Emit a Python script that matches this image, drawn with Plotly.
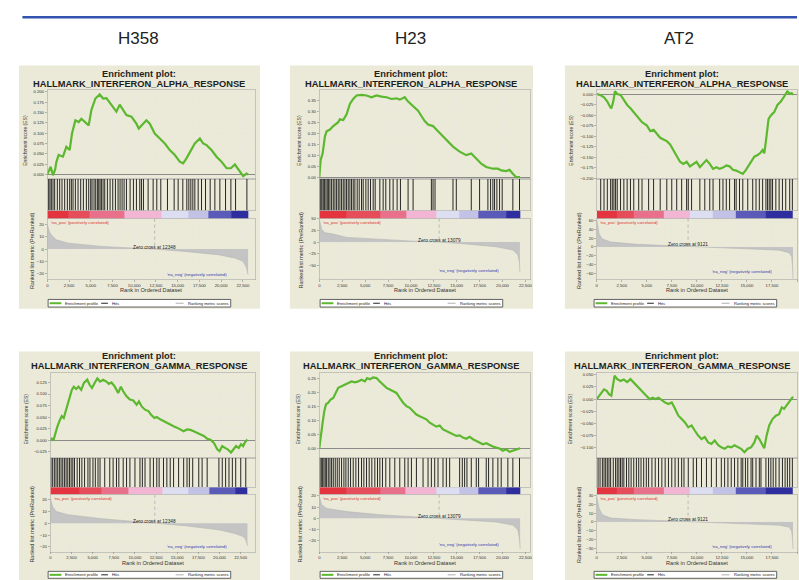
import plotly.graph_objects as go

# ------------------------------------------------------------------ data
CELL_LINES = ["H358", "H23", "AT2"]
GENE_SETS = ["HALLMARK_INTERFERON_ALPHA_RESPONSE", "HALLMARK_INTERFERON_GAMMA_RESPONSE"]
ZERO_CROSS = [12348, 13079, 9121]
RANK_TICKS = [0, 2500, 5000, 7500, 10000, 12500, 15000, 17500, 20000, 22500]
BAR_LEVELS = [1.0, 0.85, 0.6, 0.3, -0.15, -0.35, -0.7, -1.0]
LEGEND_LABELS = ["Enrichment profile", "Hits", "Ranking metric scores"]

# ---- H358 / alpha
H358_ALPHA_ES_RANK = [0, 384, 650, 900, 1040, 1300, 1800, 2190, 2570, 2840, 3225, 3610, 3917, 4300, 4760, 5070,
                      5530, 6030, 6410, 6800, 7370, 7950, 8330, 8717, 9100, 9680, 10250, 10520, 10830, 11400,
                      11790, 12360, 12940, 13520, 14090, 14670, 15240, 15630, 16010, 16590, 16970, 17550, 17930,
                      18320, 18890, 19470, 20040, 20620, 21120, 21580, 22040, 22540, 22920, 23100]
H358_ALPHA_ES = [0, 0.0185, -0.002, 0.012, 0.030, 0.047, 0.043, 0.067, 0.059, 0.099, 0.131, 0.127, 0.135, 0.127,
                 0.119, 0.156, 0.184, 0.194, 0.184, 0.185, 0.168, 0.152, 0.169, 0.156, 0.144, 0.140, 0.123, 0.111,
                 0.119, 0.131, 0.123, 0.099, 0.087, 0.075, 0.059, 0.047, 0.031, 0.027, 0.039, 0.063, 0.075, 0.087,
                 0.075, 0.071, 0.059, 0.043, 0.031, 0.015, 0.015, 0.024, 0.010, -0.004, 0.002, 0.0]
H358_ALPHA_HITS = [154, 307, 461, 653, 845, 1152, 1421, 1690, 1997, 2304, 2573, 2765, 2957, 3226, 3533, 3840, 4147,
                   4493, 4762, 4992, 5146, 5376, 5568, 5760, 5914, 6067, 6221, 6413, 6605, 6912, 7219, 7526, 7834,
                   8141, 8371, 8602, 8832, 9101, 9523, 9907, 10253, 10637, 10829, 11059, 11597, 12173, 12595, 13056,
                   13824, 14592, 15053, 15590, 16051, 16282, 16512, 16742, 16973, 17357, 17741, 18202, 18739, 19277,
                   19853, 20506, 21120, 21658, 22963]
H358_ALPHA_METRIC_RANK = [0, 100, 250, 460, 1040, 2380, 6220, 10060, 12348, 15820, 19660, 21580, 22540, 22920, 23100]
H358_ALPHA_METRIC = [20, 17, 14, 11.6, 7.6, 4.9, 2.2, 0.8, 0, -1.9, -4.6, -7.3, -10, -15.4, -20.8]
H358_ALPHA_BAR_EDGES = [0, 2381, 4877, 8909, 13133, 16205, 18509, 21197, 23100]
H358_ALPHA_ES_TICKS = [0.0, 0.025, 0.05, 0.075, 0.1, 0.125, 0.15, 0.175, 0.2]
H358_ALPHA_METRIC_TICKS = [-20, -10, 0, 10, 20]

# ---- H23 / alpha
H23_ALPHA_ES_RANK = [0, 145, 363, 617, 799, 1162, 1524, 1706, 2069, 2251, 2614, 2977, 3340, 3703, 4066, 4610, 5155,
                     5699, 6244, 6788, 7333, 7877, 8422, 8785, 9329, 9692, 10237, 10781, 11144, 11507, 11870, 12415,
                     12959, 13504, 14048, 14593, 15319, 16045, 16589, 17134, 17678, 18223, 18949, 19493, 19856,
                     20401, 20764, 21127, 21490, 21900]
H23_ALPHA_ES = [0, 0.078, 0.109, 0.187, 0.21, 0.218, 0.234, 0.241, 0.252, 0.265, 0.262, 0.288, 0.335, 0.358, 0.374,
                0.377, 0.374, 0.366, 0.374, 0.369, 0.366, 0.358, 0.361, 0.355, 0.366, 0.346, 0.327, 0.304, 0.280,
                0.257, 0.241, 0.234, 0.210, 0.187, 0.164, 0.140, 0.117, 0.101, 0.109, 0.086, 0.062, 0.047, 0.039,
                0.039, 0.031, 0.028, 0.034, 0.016, 0.0, 0.0]
H23_ALPHA_HITS = [73, 182, 290, 436, 581, 726, 871, 1016, 1162, 1343, 1525, 1706, 1888, 2069, 2251, 2432, 2614, 2795,
                  2977, 3158, 3340, 3521, 3703, 3884, 4138, 4356, 4610, 4792, 5082, 5336, 5590, 5881, 6098, 6607,
                  6970, 7260, 7696, 8059, 8494, 8857, 9692, 10237, 12233, 12415, 12632, 14593, 14956, 16589, 17497,
                  18404, 18695, 18949, 19130, 19384, 19675, 19965, 21127, 21853]
H23_ALPHA_METRIC_RANK = [0, 73, 254, 617, 1525, 2977, 6607, 10237, 13079, 15682, 19312, 21127, 21671, 21853, 21900]
H23_ALPHA_METRIC = [50, 45, 27, 20, 17, 10, 5.4, 2, 0, -3.4, -10, -17, -27, -44, -64]
H23_ALPHA_BAR_EDGES = [0, 2977, 6607, 9511, 12778, 15319, 17316, 20401, 21900]
H23_ALPHA_ES_TICKS = [0.0, 0.05, 0.1, 0.15, 0.2, 0.25, 0.3, 0.35]
H23_ALPHA_METRIC_TICKS = [-50, -25, 0, 25, 50]

# ---- AT2 / alpha
AT2_ALPHA_ES_RANK = [0, 396, 726, 1056, 1320, 1452, 1650, 1815, 2046, 2376, 2706, 3036, 3366, 3696, 4191, 4521, 5016,
                     5346, 5676, 6006, 6336, 6666, 6996, 7326, 7656, 7986, 8316, 8646, 8976, 9306, 9636, 9966, 10296,
                     10626, 10956, 11286, 11616, 11946, 12276, 12606, 12936, 13266, 13596, 13926, 14256, 14586,
                     14850, 15081, 15411, 15741, 16071, 16302, 16566, 16731, 16896, 17160, 17391, 17721, 18051,
                     18381, 18711, 19041, 19272, 19470, 19600]
AT2_ALPHA_ES = [0, -0.003, -0.008, -0.018, -0.030, -0.034, -0.018, 0.0066, 0, -0.002, -0.014, -0.026, -0.034,
                -0.043, -0.059, -0.067, -0.075, -0.088, -0.085, -0.096, -0.104, -0.108, -0.112, -0.120, -0.133,
                -0.149, -0.161, -0.166, -0.161, -0.172, -0.166, -0.161, -0.174, -0.166, -0.157, -0.166, -0.178,
                -0.174, -0.178, -0.175, -0.170, -0.172, -0.180, -0.182, -0.186, -0.190, -0.182, -0.174, -0.161,
                -0.149, -0.145, -0.141, -0.133, -0.141, -0.112, -0.059, -0.051, -0.043, -0.026, -0.018, -0.006,
                0.0066, 0, 0.002, -0.002]
AT2_ALPHA_HITS = [396, 726, 1056, 1386, 1551, 1716, 1881, 2046, 2376, 2706, 3036, 3366, 3696, 4191, 4521, 5181, 5676,
                  6336, 6996, 7491, 7986, 8481, 8976, 9141, 9471, 10296, 10791, 11286, 11616, 12276, 12606, 12936,
                  13266, 13761, 13926, 14256, 14586, 15081, 15576, 15906, 16236, 16566, 16896, 17061, 17226, 17391,
                  17556, 17886, 18216, 18546, 18876, 19272, 19536]
AT2_ALPHA_METRIC_RANK = [0, 66, 231, 561, 1386, 4026, 7326, 9121, 12276, 15576, 18216, 19206, 19470, 19560, 19600]
AT2_ALPHA_METRIC = [62, 51, 29, 18, 11, 5.8, 2.9, 0, -2.2, -4.4, -7.3, -13, -22, -45, -72]
AT2_ALPHA_BAR_EDGES = [0, 2046, 3696, 6666, 9306, 11616, 13926, 16896, 19600]
AT2_ALPHA_ES_TICKS = [-0.2, -0.175, -0.15, -0.125, -0.1, -0.075, -0.05, -0.025, 0.0]
AT2_ALPHA_METRIC_TICKS = [-60, -40, -20, 0, 20, 40, 60]

# ---- H358 / gamma
H358_GAMMA_ES_RANK = [0, 159, 397, 556, 794, 1072, 1350, 1588, 1866, 2263, 2541, 2779, 3057, 3335, 3652, 3970, 4367,
                      4645, 4923, 5240, 5558, 5876, 6233, 6630, 6908, 7225, 7622, 8019, 8337, 8615, 9012, 9409,
                      9806, 10203, 10481, 10798, 11195, 11592, 11910, 12307, 12585, 12982, 13379, 13776, 14173,
                      14570, 14967, 15364, 15761, 16158, 16555, 16952, 17349, 17746, 18143, 18540, 18937, 19334,
                      19731, 20009, 20326, 20644, 20962, 21359, 21637, 21954, 22272, 22550, 22788, 23026, 23304]
H358_GAMMA_ES = [-0.002, 0.003, 0.001, 0.012, 0.027, 0.041, 0.052, 0.048, 0.066, 0.091, 0.109, 0.116, 0.111, 0.116,
                 0.109, 0.124, 0.131, 0.120, 0.113, 0.124, 0.134, 0.127, 0.131, 0.127, 0.122, 0.125, 0.116, 0.102,
                 0.116, 0.106, 0.095, 0.088, 0.086, 0.077, 0.084, 0.073, 0.066, 0.063, 0.055, 0.048, 0.050, 0.045,
                 0.041, 0.037, 0.034, 0.030, 0.027, 0.023, 0.019, 0.023, 0.022, 0.019, 0.016, 0.012, 0.009, 0.003,
                 0.001, -0.006, -0.020, -0.024, -0.013, -0.017, -0.020, -0.027, -0.020, -0.013, -0.017, -0.009,
                 -0.013, -0.004, 0.001]
H358_GAMMA_HITS = [79, 278, 476, 675, 873, 1072, 1270, 1469, 1667, 1866, 2064, 2263, 2461, 2660, 2858, 3176, 3454,
                   3732, 4049, 4446, 4685, 5042, 5320, 5637, 5876, 6431, 7027, 7424, 7821, 8099, 8615, 9012, 9409,
                   10004, 10600, 10878, 11195, 11791, 12188, 12585, 12863, 13379, 13776, 14173, 14570, 15165, 15761,
                   16158, 16436, 16833, 17547, 17944, 18540, 19929, 20326, 20723, 21120, 21517, 21914, 22510, 23105]
H358_GAMMA_METRIC_RANK = [0, 79, 278, 675, 2064, 6034, 10004, 12348, 15959, 19929, 21914, 22907, 23185, 23304]
H358_GAMMA_METRIC = [21, 18.5, 13.9, 9.9, 7.2, 3.8, 1.3, 0, -2.1, -5.6, -8.8, -11.5, -15.5, -19]
H358_GAMMA_BAR_EDGES = [0, 3454, 6035, 9211, 13180, 16356, 18738, 21914, 23304]
H358_GAMMA_ES_TICKS = [-0.025, 0.0, 0.025, 0.05, 0.075, 0.1, 0.125]
H358_GAMMA_METRIC_TICKS = [-20, -10, 0, 10, 20]

# ---- H23 / gamma
H23_GAMMA_ES_RANK = [0, 145, 363, 545, 726, 980, 1234, 1525, 1815, 2069, 2432, 2795, 3158, 3521, 3884, 4247, 4610,
                     4973, 5227, 5518, 5881, 6244, 6607, 6970, 7333, 7696, 8059, 8422, 8785, 9148, 9511, 9874,
                     10237, 10600, 10963, 11326, 11689, 12052, 12415, 12778, 13141, 13504, 13867, 14230, 14593,
                     14956, 15319, 15682, 16045, 16408, 16771, 17134, 17497, 17860, 18223, 18586, 18949, 19312,
                     19675, 20038, 20401, 20764, 21127, 21490, 21925]
H23_GAMMA_ES = [0, 0.044, 0.091, 0.132, 0.156, 0.162, 0.173, 0.179, 0.197, 0.215, 0.221, 0.226, 0.232, 0.238, 0.235,
                0.238, 0.244, 0.238, 0.250, 0.246, 0.252, 0.250, 0.238, 0.226, 0.215, 0.209, 0.203, 0.197, 0.179,
                0.162, 0.150, 0.144, 0.132, 0.120, 0.114, 0.108, 0.103, 0.091, 0.085, 0.077, 0.081, 0.067, 0.061,
                0.055, 0.050, 0.044, 0.046, 0.038, 0.034, 0.041, 0.032, 0.026, 0.018, 0.014, 0.018, 0.011, 0.006,
                0.002, -0.001, -0.009, -0.004, -0.013, -0.009, -0.006, 0.0]
H23_GAMMA_HITS = [73, 218, 363, 508, 653, 799, 980, 1162, 1343, 1525, 1742, 1960, 2178, 2432, 2686, 2904, 3158, 3412,
                  3703, 3993, 4283, 4610, 4864, 5155, 5445, 5735, 6062, 6353, 6607, 6897, 7260, 7696, 8240, 8785,
                  9329, 9692, 10055, 10600, 11326, 11870, 12233, 12596, 12959, 13504, 13867, 14230, 15319, 15609,
                  15863, 16117, 16589, 17134, 17388, 18223, 18477, 18949, 19493, 19856, 20582, 21127, 21853]
H23_GAMMA_METRIC_RANK = [0, 73, 254, 799, 2977, 6607, 10237, 13079, 15682, 19312, 21127, 21671, 21853, 21925]
H23_GAMMA_METRIC = [20, 17.7, 12, 8.7, 5.9, 3.1, 1.4, 0, -1.4, -3.4, -6.2, -10.4, -18.9, -27.3]
H23_GAMMA_BAR_EDGES = [0, 2977, 6607, 9438, 12778, 15319, 17316, 20401, 21925]
H23_GAMMA_ES_TICKS = [0.0, 0.05, 0.1, 0.15, 0.2, 0.25]
H23_GAMMA_METRIC_TICKS = [-20, -10, 0, 10, 20]

# ---- AT2 / gamma
AT2_GAMMA_ES_RANK = [0, 231, 462, 726, 990, 1221, 1452, 1650, 1782, 2046, 2376, 2706, 3036, 3366, 3630, 3960, 4290,
                     4620, 4950, 5280, 5610, 5841, 6171, 6501, 6831, 7161, 7491, 7821, 8151, 8481, 8811, 9141, 9471,
                     9801, 10131, 10461, 10791, 11121, 11451, 11781, 12111, 12441, 12771, 13101, 13431, 13761,
                     14091, 14421, 14751, 15081, 15411, 15741, 15972, 16236, 16500, 16731, 16962, 17226, 17556,
                     17886, 18216, 18480, 18711, 18942, 19206, 19404, 19602]
AT2_GAMMA_ES = [0, 0.007, 0.014, 0.020, 0.017, 0.010, 0.007, 0.034, 0.048, 0.041, 0.037, 0.040, 0.035, 0.041, 0.035,
                0.027, 0.020, 0.014, 0.007, 0.0, 0.003, 0.0, 0.003, -0.003, -0.007, -0.010, -0.007, -0.020, -0.034,
                -0.041, -0.048, -0.058, -0.054, -0.065, -0.075, -0.082, -0.078, -0.089, -0.092, -0.085, -0.094,
                -0.099, -0.102, -0.097, -0.099, -0.095, -0.099, -0.102, -0.109, -0.102, -0.099, -0.089, -0.075,
                -0.082, -0.092, -0.101, -0.075, -0.054, -0.041, -0.034, -0.031, -0.017, -0.020, -0.014, -0.007,
                0.0, 0.005]
AT2_GAMMA_HITS = [132, 330, 561, 726, 891, 1056, 1221, 1386, 1650, 1881, 2046, 2211, 2376, 2541, 2706, 2970, 3201,
                  3432, 3696, 3960, 4191, 4422, 4686, 4950, 5181, 5511, 5841, 6171, 6501, 6831, 7161, 7491, 7821,
                  8151, 8481, 8712, 9141, 9636, 9966, 10461, 10956, 11451, 11946, 12441, 12771, 13101, 13431, 13761,
                  14091, 14421, 14586, 14850, 15081, 15411, 15576, 15906, 16236, 16401, 16896, 17160, 17391, 17622,
                  17886, 18216, 18546, 18810, 19041, 19272, 19536]
AT2_GAMMA_METRIC_RANK = [0, 66, 231, 561, 1386, 4026, 7326, 9121, 12276, 15576, 18216, 19206, 19470, 19569, 19602]
AT2_GAMMA_METRIC = [29, 24.8, 15.6, 8.1, 4.4, 2.6, 1.1, 0, -1.1, -2.2, -3.7, -5.9, -10.4, -21.5, -30.7]
AT2_GAMMA_BAR_EDGES = [0, 2046, 3696, 6666, 9306, 11616, 13926, 16896, 19602]
AT2_GAMMA_ES_TICKS = [-0.1, -0.075, -0.05, -0.025, 0.0, 0.025, 0.05]
AT2_GAMMA_METRIC_TICKS = [-30, -20, -10, 0, 10, 20, 30]

PANELS = [
    (H358_ALPHA_ES_RANK, H358_ALPHA_ES, H358_ALPHA_HITS, H358_ALPHA_METRIC_RANK, H358_ALPHA_METRIC,
     H358_ALPHA_BAR_EDGES, H358_ALPHA_ES_TICKS, H358_ALPHA_METRIC_TICKS, ".3f"),
    (H23_ALPHA_ES_RANK, H23_ALPHA_ES, H23_ALPHA_HITS, H23_ALPHA_METRIC_RANK, H23_ALPHA_METRIC,
     H23_ALPHA_BAR_EDGES, H23_ALPHA_ES_TICKS, H23_ALPHA_METRIC_TICKS, ".2f"),
    (AT2_ALPHA_ES_RANK, AT2_ALPHA_ES, AT2_ALPHA_HITS, AT2_ALPHA_METRIC_RANK, AT2_ALPHA_METRIC,
     AT2_ALPHA_BAR_EDGES, AT2_ALPHA_ES_TICKS, AT2_ALPHA_METRIC_TICKS, ".3f"),
    (H358_GAMMA_ES_RANK, H358_GAMMA_ES, H358_GAMMA_HITS, H358_GAMMA_METRIC_RANK, H358_GAMMA_METRIC,
     H358_GAMMA_BAR_EDGES, H358_GAMMA_ES_TICKS, H358_GAMMA_METRIC_TICKS, ".3f"),
    (H23_GAMMA_ES_RANK, H23_GAMMA_ES, H23_GAMMA_HITS, H23_GAMMA_METRIC_RANK, H23_GAMMA_METRIC,
     H23_GAMMA_BAR_EDGES, H23_GAMMA_ES_TICKS, H23_GAMMA_METRIC_TICKS, ".2f"),
    (AT2_GAMMA_ES_RANK, AT2_GAMMA_ES, AT2_GAMMA_HITS, AT2_GAMMA_METRIC_RANK, AT2_GAMMA_METRIC,
     AT2_GAMMA_BAR_EDGES, AT2_GAMMA_ES_TICKS, AT2_GAMMA_METRIC_TICKS, ".3f"),
]

# ------------------------------------------------------------------ layout / style
W, H = 799, 580
FONT = "Liberation Sans, Arial, sans-serif"
GREEN = "#5cb82e"
BEIGE = "#ebead8"
TXT = "#1e1e1e"
ES_RANGE = [(-0.011, 0.204), (-0.008, 0.398), (-0.202, 0.009), (-0.039, 0.145), (-0.035, 0.267), (-0.121, 0.053)]
METRIC_RANGE = [(-25, 25), (-80, 50), (-74, 64), (-24, 24), (-30, 21), (-34, 31)]
X_MAX = [23900, 23000, 20000, 24200, 23000, 20000]
NA_NEG = [(20900, -20.5), (19850, -61), (17720, -55), (21120, -19.3), (19860, -23.5), (17720, -28)]
PLOT_X = [[(46.5, 255.0), (319.5, 531.0), (598.0, 799.0)],
          [(49.5, 255.0), (319.5, 531.0), (598.0, 799.0)]]
PANEL_X = [(18, 260), (290, 534), (566, 812)]
PANEL_CX = [139, 412, 687]
TITLE_CX = [139, 412, 684]
ROWS = [
    dict(es=(88, 177.5), hits=(177.5, 209.5), bar=(209.5, 217.5), rank=(217.5, 279), t1=71.7, t2=81.7,
         xt=289.5, leg=(299, 306.7), panel=(63, 308.5), es_mid=138),
    dict(es=(373.5, 459), hits=(459, 488.5), bar=(488.5, 496), rank=(496, 553.5), t1=356, t2=366,
         xt=565, leg=(573.3, 580.3), panel=(351.5, 590), es_mid=419),
]
ES_TITLE_X = [[24, 299, 572], [25, 299, 572]]
RANK_TITLE_X = [[31, 301.5, 580], [31.5, 300.5, 580]]
COLUMN_LABEL_X = [138, 411, 681]
BAR_SCALE = [[0.0, "#2e2e9e"], [0.15, "#5a5ab8"], [0.325, "#c2c2e6"], [0.425, "#dedef2"],
             [0.65, "#f3b5d4"], [0.8, "#e8708a"], [0.925, "#e64d5a"], [1.0, "#e3343f"]]
LEGEND_MARKS = [(1.5, 13.3, GREEN, 2.0, 15), (53.3, 60, "#222222", 1.0, 61.7), (128, 136, "#9a9a9a", 0.8, 138)]


def pxx(x):
    return x / W


def pyy(y):
    return 1 - y / H


def ydom(span):
    return [1 - span[1] / H, 1 - span[0] / H]


def aname(kind, n):
    return f"{kind}axis" + ("" if n == 1 else str(n))


def aref(kind, n):
    return kind + ("" if n == 1 else str(n))


fig = go.Figure()
lay = {}
annotations = []
shapes = []
tickfont = dict(family=FONT, size=4.2, color="#333333")

# blue rule and column headers
shapes.append(dict(type="line", xref="paper", yref="paper", x0=pxx(21.5), x1=1.0, y0=pyy(14.3), y1=pyy(14.3),
                   line=dict(color="#3352b0", width=2.4)))
for c, lab in enumerate(CELL_LINES):
    annotations.append(dict(x=pxx(COLUMN_LABEL_X[c]), y=pyy(36), xref="paper", yref="paper", text=lab,
                            showarrow=False, xanchor="center", yanchor="middle",
                            font=dict(family="Liberation Sans Narrow, Arial Narrow, Liberation Sans", size=17,
                                      color="#222222")))

for p, panel in enumerate(PANELS):
    es_rank, es, hits, m_rank, metric, bar_edges, es_ticks, m_ticks, es_fmt = panel
    r, c = divmod(p, 3)
    g = ROWS[r]
    x0, x1 = PLOT_X[r][c]
    xd = [pxx(x0), pxx(x1)]
    n_es, n_hit, n_bar, n_rank = 4 * p + 1, 4 * p + 2, 4 * p + 3, 4 * p + 4
    zc = ZERO_CROSS[c]
    xmax = X_MAX[p]

    # panel background
    shapes.append(dict(type="rect", xref="paper", yref="paper", layer="below",
                       x0=pxx(PANEL_X[c][0]), x1=pxx(PANEL_X[c][1]), y0=pyy(g["panel"][1]), y1=pyy(g["panel"][0]),
                       fillcolor=BEIGE, line=dict(width=0)))

    frame = dict(showline=True, mirror=True, linecolor="#a8a8a8", linewidth=0.6, zeroline=False,
                 fixedrange=True)
    grid = dict(showgrid=True, gridcolor="#e4e4e4", griddash="dot", gridwidth=0.6)

    # ES axes
    lay[aname("x", n_es)] = dict(domain=xd, anchor=aref("y", n_es), range=[0, xmax], tickvals=RANK_TICKS,
                                 showticklabels=False, ticks="", **grid, **frame)
    lay[aname("y", n_es)] = dict(domain=ydom(g["es"]), anchor=aref("x", n_es), range=list(ES_RANGE[p]),
                                 tickvals=es_ticks, tickformat=es_fmt, tickfont=tickfont, ticks="outside",
                                 ticklen=2, tickcolor="#777777", tickwidth=0.5, **grid,
                                 **{k: v for k, v in frame.items() if k != "zeroline"},
                                 zeroline=True, zerolinecolor="#8a8a8a", zerolinewidth=1)
    # hits axes
    lay[aname("x", n_hit)] = dict(domain=xd, anchor=aref("y", n_hit), range=[0, xmax], showgrid=False,
                                  showticklabels=False, ticks="", **frame)
    lay[aname("y", n_hit)] = dict(domain=ydom(g["hits"]), anchor=aref("x", n_hit), range=[0, 1], showgrid=False,
                                  showticklabels=False, ticks="", **frame)
    # colour bar axes
    lay[aname("x", n_bar)] = dict(domain=xd, anchor=aref("y", n_bar), range=[0, xmax], showgrid=False,
                                  showticklabels=False, ticks="", showline=False, zeroline=False, fixedrange=True)
    lay[aname("y", n_bar)] = dict(domain=ydom(g["bar"]), anchor=aref("x", n_bar), range=[0, 1], showgrid=False,
                                  showticklabels=False, ticks="", showline=False, zeroline=False, fixedrange=True)
    # ranked list axes
    lay[aname("x", n_rank)] = dict(domain=xd, anchor=aref("y", n_rank), range=[0, xmax], tickvals=RANK_TICKS,
                                   tickformat=",d", tickfont=tickfont, ticks="outside", ticklen=1.5,
                                   tickcolor="#777777", tickwidth=0.5, **grid, **frame)
    lay[aname("y", n_rank)] = dict(domain=ydom(g["rank"]), anchor=aref("x", n_rank), range=list(METRIC_RANGE[p]),
                                   tickvals=m_ticks, tickfont=tickfont, ticks="outside", ticklen=2,
                                   tickcolor="#777777", tickwidth=0.5, **grid, **frame)

    # traces
    fig.add_trace(go.Scatter(x=es_rank, y=es, mode="lines", line=dict(color=GREEN, width=2.2),
                             xaxis=aref("x", n_es), yaxis=aref("y", n_es), showlegend=False,
                             name=LEGEND_LABELS[0]))
    hx, hy = [], []
    for h in hits:
        hx += [h, h, None]
        hy += [0, 1, None]
    fig.add_trace(go.Scatter(x=hx, y=hy, mode="lines", line=dict(color="#111111", width=0.9),
                             xaxis=aref("x", n_hit), yaxis=aref("y", n_hit), showlegend=False,
                             name=LEGEND_LABELS[1]))
    fig.add_trace(go.Heatmap(z=[BAR_LEVELS], x=bar_edges, y=[0, 1], colorscale=BAR_SCALE, zmin=-1, zmax=1,
                             showscale=False, xaxis=aref("x", n_bar), yaxis=aref("y", n_bar), hoverinfo="skip"))
    fig.add_trace(go.Scatter(x=m_rank, y=metric, mode="lines", fill="tozeroy", fillcolor="#c4c4c4",
                             line=dict(color="#b4b4b4", width=0.6), xaxis=aref("x", n_rank),
                             yaxis=aref("y", n_rank), showlegend=False, name=LEGEND_LABELS[2]))
    fig.add_trace(go.Scatter(x=[zc, zc], y=[METRIC_RANGE[p][1], 0], mode="lines",
                             line=dict(color="#999999", width=0.6, dash="dot"), xaxis=aref("x", n_rank),
                             yaxis=aref("y", n_rank), showlegend=False, hoverinfo="skip"))

    # titles
    tcx = TITLE_CX[c]
    annotations.append(dict(x=pxx(tcx), y=pyy(g["t1"]), xref="paper", yref="paper", text="<b>Enrichment plot:</b>",
                            showarrow=False, xanchor="center", yanchor="middle",
                            font=dict(family=FONT, size=9.3, color=TXT)))
    annotations.append(dict(x=pxx(tcx), y=pyy(g["t2"]), xref="paper", yref="paper",
                            text="<b>" + GENE_SETS[r] + "</b>", showarrow=False, xanchor="center",
                            yanchor="middle", font=dict(family=FONT, size=9.3, color=TXT)))
    # axis titles
    annotations.append(dict(x=pxx(ES_TITLE_X[r][c]), y=pyy(g["es_mid"]), xref="paper", yref="paper",
                            text="Enrichment score (ES)", textangle=-90, showarrow=False, xanchor="center",
                            yanchor="middle", font=dict(family=FONT, size=5, color="#333333")))
    annotations.append(dict(x=pxx(RANK_TITLE_X[r][c]), y=pyy((g["rank"][0] + g["rank"][1]) / 2 + 1),
                            xref="paper", yref="paper", text="Ranked list metric (PreRanked)", textangle=-90,
                            showarrow=False, xanchor="center", yanchor="middle",
                            font=dict(family=FONT, size=5.5, color="#333333")))
    annotations.append(dict(x=pxx((x0 + x1) / 2), y=pyy(g["xt"]), xref="paper", yref="paper",
                            text="Rank in Ordered Dataset", showarrow=False, xanchor="center", yanchor="middle",
                            font=dict(family=FONT, size=5.6, color="#333333")))
    # in-plot labels
    annotations.append(dict(x=zc, y=0, xref=aref("x", n_rank), yref=aref("y", n_rank),
                            text=f"Zero cross at {zc}", showarrow=False, xanchor="center", yanchor="bottom",
                            yshift=-2.5, font=dict(family=FONT, size=4.8, color="#222222")))
    annotations.append(dict(x=0, y=METRIC_RANGE[p][1], xref=aref("x", n_rank), yref=aref("y", n_rank),
                            text="'na_pos' (positively correlated)", showarrow=False, xanchor="left",
                            yanchor="top", xshift=1.5, yshift=0.5,
                            font=dict(family=FONT, size=4.3, color="#e03030")))
    annotations.append(dict(x=NA_NEG[p][0], y=NA_NEG[p][1], xref=aref("x", n_rank), yref=aref("y", n_rank),
                            text="'na_neg' (negatively correlated)", showarrow=False, xanchor="right",
                            yanchor="middle", font=dict(family=FONT, size=4.3, color="#3535b0")))

    # legend box
    bl = PANEL_CX[c] - 91.7
    ly0, ly1 = g["leg"]
    lmid = (ly0 + ly1) / 2
    shapes.append(dict(type="rect", xref="paper", yref="paper", x0=pxx(bl), x1=pxx(bl + 183.3),
                       y0=pyy(ly1), y1=pyy(ly0), fillcolor="white", line=dict(color="#505050", width=0.9)))
    for (s0, s1, col, wd, tx), label in zip(LEGEND_MARKS, LEGEND_LABELS):
        shapes.append(dict(type="line", xref="paper", yref="paper", x0=pxx(bl + s0), x1=pxx(bl + s1),
                           y0=pyy(lmid), y1=pyy(lmid), line=dict(color=col, width=wd)))
        annotations.append(dict(x=pxx(bl + tx), y=pyy(lmid), xref="paper", yref="paper", text=label,
                                showarrow=False, xanchor="left", yanchor="middle",
                                font=dict(family=FONT, size=4.1, color="#222222")))

fig.update_layout(
    width=W, height=H, autosize=False,
    margin=dict(l=0, r=0, t=0, b=0, pad=0),
    paper_bgcolor="white", plot_bgcolor="white",
    showlegend=False,
    annotations=annotations, shapes=shapes,
    font=dict(family=FONT, size=5, color="#333333"),
    **lay,
)
fig.write_html("out.html", config={"displayModeBar": False, "staticPlot": True},
               post_script="document.body.style.margin='0';document.body.style.padding='0';"
                           "document.documentElement.style.overflow='hidden';")
